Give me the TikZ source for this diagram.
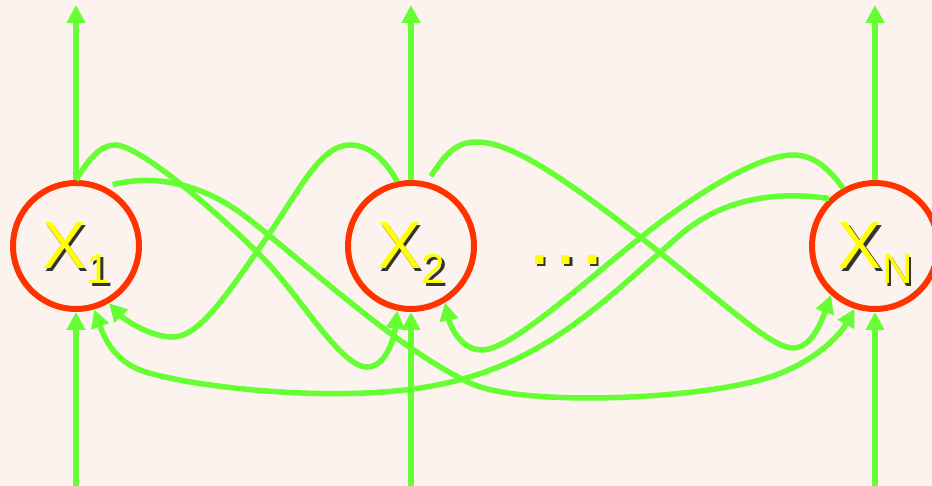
\documentclass[tikz,border=0pt]{standalone}
\usepackage{fontspec}
\setmainfont{Liberation Sans}
\usepackage{tikz}
\usetikzlibrary{arrows.meta}

\definecolor{bgpeach}{RGB}{253,243,238}
\definecolor{linkgreen}{RGB}{102,255,51}
\definecolor{statered}{RGB}{255,51,0}
\definecolor{labelyellow}{RGB}{255,255,0}

% yellow text with a dark drop shadow
\newcommand{\shadowed}[1]{\makebox[0pt][l]{\smash{\kern0.05cm\raisebox{-0.05cm}{\color{black!80}#1}}}{\color{labelyellow}#1}}
\newcommand{\subsc}[1]{\smash{\lower0.3cm\hbox{\fontsize{24}{28}\selectfont #1}}}

\begin{document}
\begin{tikzpicture}[
    x=0.02cm, y=-0.02cm,
    state/.style={circle, draw=statered, line width=0.12cm, minimum size=2.52cm, inner sep=0pt, font=\fontsize{38}{44}\selectfont},
    arrow/.style={-{Triangle[length=0.36cm, width=0.36cm]}, draw=linkgreen, line width=0.11cm}
]
\useasboundingbox (0,0) rectangle (932,486);
\fill[bgpeach] (0,0) rectangle (932,486);
% Units
\node[state] (x1) at (76,246) {\shadowed{X\subsc{1}}};
\node[state] (x2) at (411,246) {\shadowed{X\subsc{2}}};
\node[state] (xn) at (875,246) {\shadowed{X\subsc{N}}};
\node[font=\fontsize{34}{40}\selectfont\bfseries, anchor=base] (dots) at (566,264) {\shadowed{.\kern0.2cm.\kern0.2cm.}};
% Outputs and inputs
\coordinate (out1) at (76,5);
\coordinate (out2) at (411,5);
\coordinate (outn) at (875,5);
\coordinate (in1) at (76,486);
\coordinate (in2) at (411,486);
\coordinate (inn) at (875,486);
\draw[arrow] (x1.north) -- (out1);
\draw[arrow] (x2.north) -- (out2);
\draw[arrow] (xn.north) -- (outn);
\draw[arrow] (in1) -- (x1.south);
\draw[arrow] (in2) -- (x2.south);
\draw[arrow] (inn) -- (xn.south);
% Links from X1
\draw[arrow] (x1.north) .. controls (88,160) and (100,145) .. (115,145)
    .. controls (140,145) and (220,215) .. (260,255)
    .. controls (300,295) and (340,367) .. (367,367)
    .. controls (385,367) and (394,340) .. (x2.258);
\draw[arrow, shorten <=0.16cm] (x1.64) .. controls (150,175) and (200,180) .. (250,220)
    .. controls (320,276) and (400,350) .. (470,383)
    .. controls (520,407) and (700,400) .. (770,377)
    .. controls (815,362) and (840,335) .. (xn.252);
% Links from X2
\draw[arrow] (x2.102) .. controls (385,160) and (370,145) .. (350,145)
    .. controls (320,145) and (300,190) .. (265,240)
    .. controls (230,290) and (200,337) .. (173,337)
    .. controls (150,337) and (125,320) .. (x1.300);
\draw[arrow, shorten <=0.14cm] (x2.76) .. controls (445,155) and (455,142) .. (477,142)
    .. controls (510,142) and (560,175) .. (640,237)
    .. controls (720,299) and (770,348) .. (793,348)
    .. controls (812,348) and (822,320) .. (xn.228);
% Links from XN
\draw[arrow] (xn.119) .. controls (830,170) and (815,155) .. (793,155)
    .. controls (760,155) and (700,190) .. (640,238)
    .. controls (580,286) and (510,350) .. (482,350)
    .. controls (460,350) and (450,325) .. (x2.301);
\draw[arrow] (xn.134) .. controls (790,193) and (730,192) .. (680,235)
    .. controls (600,304) and (540,370) .. (420,388)
    .. controls (320,403) and (180,385) .. (140,370)
    .. controls (115,360) and (105,340) .. (x1.286);
\end{tikzpicture}
\end{document}
